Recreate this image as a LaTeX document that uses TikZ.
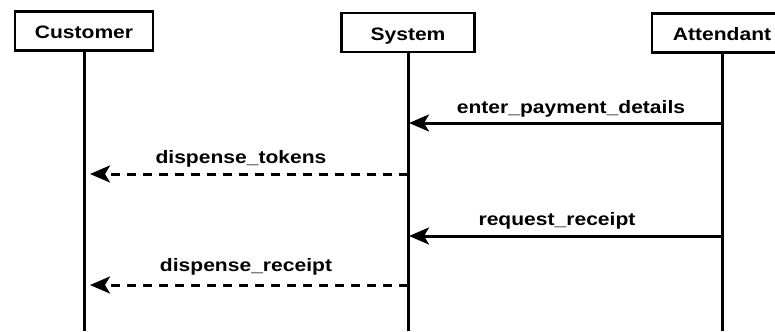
\documentclass[tikz,border=0pt]{standalone}
\usepackage{fontspec}
\setmainfont{Liberation Sans}[BoldFont={* Bold}, BoldFeatures={FakeStretch=1.17}]
\usetikzlibrary{arrows.meta}
\begin{document}
\begin{tikzpicture}[x=1bp,y=-1bp,
  font=\fontsize{18bp}{21bp}\selectfont\bfseries,
  actor/.style={draw,line width=2.3bp,minimum height=39bp,inner sep=0pt,fill=white,
    text height=15bp,text depth=0bp},
  lifeline/.style={line width=3bp},
  msg/.style={line width=3bp,-{Stealth[length=20bp,width=17bp,inset=5bp]}},
  reply/.style={msg,dash pattern=on 9bp off 7bp,shorten >=6bp},
  lbl/.style={anchor=base,inner sep=0pt}]
  \useasboundingbox (0,0) rectangle (775,331);
  \clip (0,0) rectangle (775,331);

  % participants
  \node[actor,minimum width=138bp] (cust) at (84,31) {Customer};
  \node[actor,minimum width=133bp] (sys)  at (408,32.5) {System};
  \node[actor,minimum width=140bp] (att)  at (722,33) {Attendant};

  % lifeline ends
  \coordinate (custEnd) at (84,331);
  \coordinate (sysEnd)  at (408,331);
  \coordinate (attEnd)  at (722,331);
  \draw[lifeline] (cust.south) -- (custEnd);
  \draw[lifeline] (sys.south) -- (sysEnd);
  \draw[lifeline] (att.south) -- (attEnd);

  % message anchor points on the lifelines
  \coordinate (att1)  at (722,123);
  \coordinate (sys1)  at (409,123);
  \coordinate (sys2)  at (408,174);
  \coordinate (cust2) at (84,174);
  \coordinate (att3)  at (722,236);
  \coordinate (sys3)  at (409,236);
  \coordinate (sys4)  at (408,285);
  \coordinate (cust4) at (84,285);

  % messages
  \draw[msg]   (att1) -- (sys1);
  \draw[reply] (sys2) -- (cust2);
  \draw[msg]   (att3) -- (sys3);
  \draw[reply] (sys4) -- (cust4);

  % message labels
  \node[lbl] (l1) at (571,113) {enter\_payment\_details};
  \node[lbl] (l2) at (241,163) {dispense\_tokens};
  \node[lbl] (l3) at (557,225) {request\_receipt};
  \node[lbl] (l4) at (246,271) {dispense\_receipt};
\end{tikzpicture}
\end{document}
